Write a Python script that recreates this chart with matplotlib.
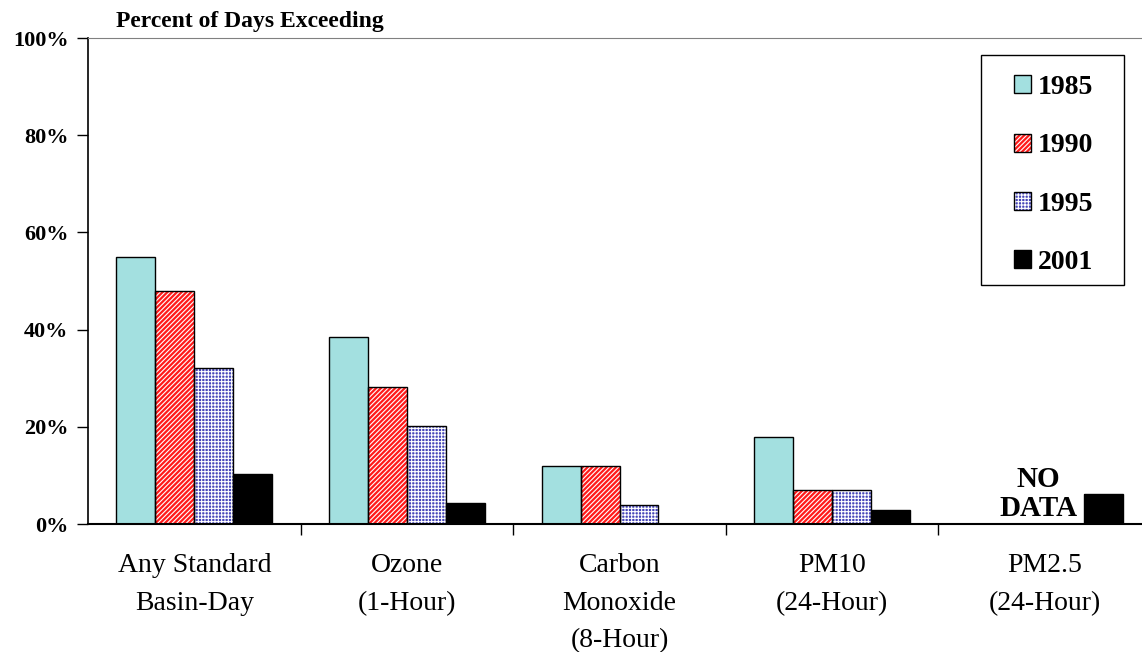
import matplotlib
matplotlib.use("Agg")
import matplotlib.pyplot as plt
import numpy as np

plt.rcParams["font.family"] = ["Liberation Serif", "DejaVu Serif"]
plt.rcParams["hatch.linewidth"] = 0.8

categories = ["Any Standard\nBasin-Day", "Ozone\n(1-Hour)", "Carbon\nMonoxide\n(8-Hour)",
              "PM10\n(24-Hour)", "PM2.5\n(24-Hour)"]
years = ["1985", "1990", "1995", "2001"]
v1985 = [55, 38.5, 12, 18, 0]
v1990 = [48, 28.2, 12, 7, 0]
v1995 = [32, 20.2, 4, 7, 0]
v2001 = [10.3, 4.4, 0, 2.9, 6.2]
series = [v1985, v1990, v1995, v2001]

faces = ["#a3e0e0", "#ff1a1a", "#4646b8", "#000000"]
hatches = [None, "///////", "+++++", None]

fig = plt.figure(figsize=(11.42, 6.52), dpi=100)
ax = fig.add_axes([88 / 1142, 1 - 524 / 652, 1063 / 1142, 486 / 652])

x = np.arange(len(categories))
w = 0.183
handles = []
for j, vals in enumerate(series):
    pos = x + (j - 1.5) * w
    vals = np.array(vals, dtype=float)
    mask = vals > 0
    hc = "white" if hatches[j] else faces[j]
    ax.bar(pos[mask], vals[mask], w, color=faces[j], hatch=hatches[j],
           edgecolor=hc, linewidth=0, zorder=2)
    ax.bar(pos[mask], vals[mask], w, fill=False, edgecolor="black", linewidth=1.0, zorder=3)
    p_fill = plt.Rectangle((0, 0), 1, 1, facecolor=faces[j], hatch=hatches[j],
                           edgecolor=hc, linewidth=0)
    p_edge = plt.Rectangle((0, 0), 1, 1, fill=False, edgecolor="black", linewidth=1.0)
    handles.append((p_fill, p_edge))

ax.set_xlim(-0.5, 4.5)
ax.set_ylim(0, 100)
ax.set_yticks(np.arange(0, 101, 20))
ax.set_yticklabels([f"{v}%" for v in range(0, 101, 20)], fontsize=16, fontweight="bold")
ax.tick_params(axis="y", direction="out", length=8, width=1, pad=6)

ax.set_xticks(x)
ax.set_xticklabels(categories, fontsize=20, linespacing=1.66)
ax.tick_params(axis="x", which="major", length=0, pad=21)
ax.set_xticks(np.arange(0.5, 4.0, 1.0), minor=True)
ax.tick_params(axis="x", which="minor", direction="out", length=8, width=1)

ax.spines["top"].set_color("#808080")
ax.spines["right"].set_visible(False)
ax.spines["left"].set_linewidth(1.2)
ax.spines["bottom"].set_linewidth(1.5)

ax.text(3.97, 0.4, "NO\nDATA", ha="center", va="bottom", fontsize=21,
        fontweight="bold", linespacing=1.1)

fig.text(116 / 1142, 1 - 21 / 652, "Percent of Days Exceeding", fontsize=17,
         fontweight="bold", va="center", ha="left")

# legend box drawn separately so the padding can differ per side
box = plt.Rectangle((981 / 1142, 1 - 285 / 652), 143 / 1142, 230 / 652,
                    transform=fig.transFigure, fill=False, edgecolor="black",
                    linewidth=1.0, zorder=5)
fig.patches.append(box)
leg = ax.legend(handles, years, loc="upper left",
                bbox_to_anchor=(1014 / 1142, 1 - 75 / 652), bbox_transform=fig.transFigure,
                frameon=False, prop={"size": 20, "weight": "bold"},
                handlelength=0.62, handleheight=0.62, handletextpad=0.25,
                labelspacing=1.2, borderpad=0, borderaxespad=0)

fig.savefig("out.png", dpi=100)
